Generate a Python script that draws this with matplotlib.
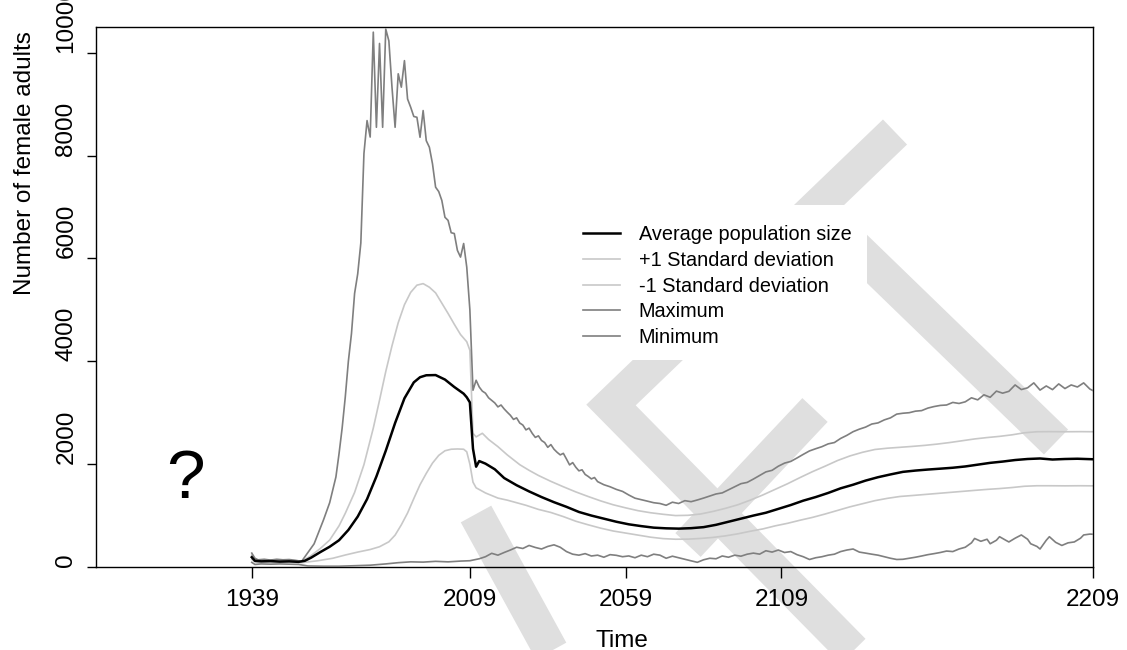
import matplotlib
matplotlib.use("Agg")
import matplotlib.pyplot as plt
from matplotlib.lines import Line2D
from matplotlib.patches import Rectangle

plt.rcParams["font.family"] = ["Liberation Sans", "DejaVu Sans"]

# ---- data (female adults per year) ----
avg_years = [1939, 1940, 1942, 1945, 1948, 1951, 1954, 1956, 1958, 1961, 1964, 1967,
             1970, 1973, 1976, 1979, 1982, 1985, 1988, 1991, 1993, 1995, 1998, 2001,
             2004, 2007, 2008, 2009, 2010, 2011, 2012, 2014, 2017, 2020, 2024, 2028,
             2032, 2036, 2040, 2044, 2048, 2052, 2056, 2060, 2064, 2068, 2072, 2076,
             2080, 2084, 2088, 2092, 2096, 2100, 2104, 2108, 2112, 2116, 2120, 2124,
             2128, 2132, 2136, 2140, 2144, 2148, 2152, 2156, 2160, 2164, 2168, 2172,
             2176, 2180, 2184, 2188, 2192, 2196, 2200, 2204, 2209]
avg_vals = [190, 120, 110, 115, 105, 110, 100, 120, 180, 290, 394, 520,
            720, 980, 1320, 1760, 2260, 2800, 3280, 3590, 3690, 3728, 3732, 3645,
            3500, 3370, 3300, 3200, 2300, 1950, 2060, 2010, 1900, 1730, 1590, 1470,
            1360, 1260, 1170, 1070, 1000, 940, 880, 830, 795, 765, 752, 746,
            755, 775, 820, 880, 940, 1000, 1055, 1130, 1205, 1290, 1360, 1440,
            1530, 1600, 1680, 1746, 1800, 1850, 1875, 1895, 1912, 1930, 1955, 1990,
            2025, 2050, 2080, 2100, 2110, 2090, 2100, 2105, 2095]

sd_up_years = [1939, 1940, 1943, 1947, 1951, 1955, 1958, 1961, 1964, 1967, 1969, 1972,
               1975, 1978, 1980, 1982, 1984, 1986, 1988, 1990, 1992, 1994, 1996, 1998,
               2000, 2002, 2004, 2006, 2008, 2009, 2010, 2011, 2013, 2015, 2018, 2021,
               2025, 2028, 2031, 2035, 2039, 2043, 2047, 2051, 2055, 2059, 2063, 2067,
               2071, 2075, 2079, 2083, 2087, 2091, 2095, 2099, 2103, 2107, 2111, 2115,
               2119, 2123, 2127, 2131, 2135, 2139, 2143, 2147, 2151, 2155, 2159, 2163,
               2167, 2171, 2175, 2179, 2183, 2187, 2191, 2195, 2200, 2205, 2209]
sd_up_vals = [230, 140, 125, 120, 115, 105, 220, 360, 524, 800, 1043, 1450,
              1990, 2700, 3243, 3800, 4300, 4750, 5100, 5340, 5480, 5510, 5440, 5330,
              5130, 4930, 4720, 4520, 4380, 4214, 2600, 2530, 2600, 2480, 2340, 2180,
              1990, 1880, 1780, 1665, 1560, 1460, 1370, 1285, 1210, 1150, 1095, 1055,
              1025, 1000, 1005, 1030, 1080, 1140, 1210, 1300, 1400, 1510, 1620, 1740,
              1855, 1960, 2070, 2160, 2230, 2285, 2310, 2327, 2345, 2365, 2390, 2420,
              2455, 2490, 2517, 2540, 2570, 2610, 2630, 2632, 2630, 2632, 2630]

sd_low_years = [1939, 1940, 1943, 1947, 1951, 1955, 1960, 1965, 1969, 1973, 1977, 1980,
                1983, 1985, 1987, 1989, 1991, 1993, 1995, 1997, 1999, 2001, 2003, 2005,
                2007, 2008, 2009, 2010, 2011, 2014, 2018, 2021, 2024, 2027, 2031, 2035,
                2039, 2043, 2047, 2051, 2055, 2059, 2063, 2067, 2071, 2075, 2079, 2083,
                2087, 2091, 2095, 2099, 2103, 2107, 2111, 2115, 2119, 2123, 2127, 2131,
                2135, 2139, 2143, 2147, 2151, 2155, 2159, 2163, 2167, 2171, 2175, 2179,
                2183, 2187, 2191, 2195, 2200, 2205, 2209]
sd_low_vals = [150, 100, 95, 90, 95, 85, 120, 170, 233, 290, 340, 394,
               490, 620, 820, 1050, 1330, 1600, 1820, 2020, 2170, 2260, 2290, 2295,
               2290, 2240, 2000, 1650, 1540, 1440, 1340, 1300, 1250, 1200, 1120, 1060,
               980, 890, 820, 755, 700, 660, 620, 580, 552, 540, 542, 555,
               575, 605, 645, 695, 740, 800, 850, 910, 965, 1030, 1100, 1170,
               1230, 1290, 1335, 1371, 1390, 1410, 1430, 1450, 1470, 1490, 1509, 1525,
               1545, 1570, 1580, 1580, 1578, 1580, 1578]

max_years = [1939, 1940, 1941, 1943, 1945, 1947, 1949, 1951, 1953, 1955, 1957, 1959,
             1961, 1962, 1964, 1965, 1966, 1967, 1968, 1969, 1970, 1971, 1972, 1973,
             1974, 1975, 1976, 1977, 1978, 1979, 1980, 1981, 1982, 1983, 1984, 1985,
             1986, 1987, 1988, 1989, 1990, 1991, 1992, 1993, 1994, 1995, 1996, 1997,
             1998, 1999, 2000, 2001, 2002, 2003, 2004, 2005, 2006, 2007, 2008, 2009,
             2010, 2011, 2012, 2013, 2014, 2015, 2016, 2017, 2018, 2019, 2020, 2021,
             2022, 2023, 2024, 2025, 2026, 2027, 2028, 2029, 2030, 2031, 2032, 2033,
             2034, 2035, 2036, 2037, 2038, 2039, 2040, 2041, 2042, 2043, 2044, 2045,
             2046, 2047, 2048, 2049, 2050, 2052, 2054, 2056, 2058, 2060, 2062, 2064,
             2066, 2068, 2070, 2072, 2074, 2076, 2078, 2080, 2082, 2084, 2086, 2088,
             2090, 2092, 2094, 2096, 2098, 2100, 2102, 2104, 2106, 2108, 2110, 2112,
             2114, 2116, 2118, 2120, 2122, 2124, 2126, 2128, 2130, 2132, 2134, 2136,
             2138, 2140, 2142, 2144, 2146, 2148, 2150, 2152, 2154, 2156, 2158, 2160,
             2162, 2164, 2166, 2168, 2170, 2172, 2174, 2176, 2178, 2180, 2182, 2184,
             2186, 2188, 2190, 2192, 2194, 2196, 2198, 2200, 2202, 2204, 2206, 2208,
             2209]
max_vals = [270, 170, 140, 150, 135, 150, 140, 145, 130, 110, 280, 450,
            760, 913, 1250, 1500, 1750, 2200, 2700, 3300, 4000, 4540, 5320, 5700,
            6300, 8040, 8680, 8360, 10400, 8550, 10180, 8550, 10460, 10230, 9330, 8550,
            9590, 9330, 9846, 9100, 8940, 8760, 8745, 8356, 8875, 8290, 8162, 7840,
            7385, 7300, 7127, 6800, 6740, 6500, 6484, 6156, 6026, 6290, 5830, 5000,
            3437, 3631, 3500, 3420, 3380, 3290, 3240, 3190, 3113, 3150, 3074, 3010,
            2950, 2870, 2900, 2800, 2760, 2666, 2700, 2600, 2520, 2550, 2460, 2420,
            2327, 2380, 2290, 2230, 2180, 2210, 2100, 1985, 2030, 1940, 1870, 1890,
            1800, 1760, 1713, 1740, 1660, 1600, 1560, 1509, 1470, 1400, 1338, 1310,
            1280, 1250, 1235, 1200, 1260, 1235, 1290, 1270, 1303, 1340, 1380, 1420,
            1441, 1500, 1560, 1620, 1645, 1710, 1780, 1849, 1880, 1960, 2020, 2053,
            2120, 2190, 2257, 2300, 2340, 2394, 2420, 2500, 2560, 2631, 2680, 2720,
            2780, 2802, 2860, 2900, 2973, 2990, 3000, 3030, 3041, 3090, 3120, 3142,
            3150, 3200, 3180, 3212, 3290, 3250, 3348, 3300, 3420, 3380, 3416, 3540,
            3450, 3484, 3580, 3440, 3520, 3449, 3560, 3470, 3540, 3500, 3580, 3460,
            3430]

min_years = [1939, 1940, 1942, 1945, 1948, 1951, 1954, 1957, 1962, 1967, 1972, 1977,
             1982, 1986, 1990, 1994, 1998, 2002, 2006, 2009, 2012, 2014, 2016, 2018,
             2020, 2022, 2024, 2026, 2028, 2030, 2032, 2034, 2036, 2038, 2040, 2042,
             2044, 2046, 2048, 2050, 2052, 2054, 2056, 2058, 2060, 2062, 2064, 2066,
             2068, 2070, 2072, 2074, 2076, 2078, 2080, 2082, 2084, 2086, 2088, 2090,
             2092, 2094, 2096, 2098, 2100, 2102, 2104, 2106, 2108, 2110, 2112, 2114,
             2116, 2118, 2120, 2122, 2124, 2126, 2128, 2130, 2132, 2134, 2136, 2138,
             2140, 2142, 2144, 2146, 2148, 2150, 2152, 2154, 2156, 2158, 2160, 2162,
             2164, 2166, 2168, 2170, 2171, 2173, 2175, 2176, 2178, 2179, 2181, 2182,
             2184, 2186, 2188, 2189, 2191, 2192, 2194, 2195, 2197, 2199, 2201, 2203,
             2205, 2206, 2208, 2209]
min_vals = [90, 50, 60, 55, 60, 55, 50, 20, 15, 15, 25, 35,
            60, 84, 100, 95, 110, 100, 115, 122, 160, 200, 266, 230,
            282, 330, 384, 360, 419, 380, 350, 400, 431, 384, 300, 249,
            230, 260, 214, 230, 190, 240, 227, 200, 215, 180, 230, 200,
            249, 230, 170, 210, 180, 150, 120, 91, 140, 170, 160, 214,
            190, 230, 210, 249, 270, 250, 316, 290, 330, 282, 300, 240,
            200, 146, 180, 200, 230, 249, 300, 330, 350, 290, 270, 249,
            230, 200, 170, 146, 150, 170, 190, 214, 240, 260, 282, 310,
            300, 350, 384, 470, 555, 500, 540, 452, 520, 589, 520, 487,
            560, 623, 540, 452, 400, 350, 520, 589, 480, 419, 470, 487,
            560, 623, 640, 637]

x_ticks = [1939, 2009, 2059, 2109, 2209]
y_ticks = [0, 2000, 4000, 6000, 8000, 10000]

# light watermark strokes behind the plot (figure pixels, y from top)
watermark = [
    [(895, 132), (611, 405), (862, 660)],
    [(835, 228), (1056, 442)],
    [(815, 410), (688, 545)],
    [(476, 514), (556, 660)],
]

W, H = 1127, 650
fig = plt.figure(figsize=(W / 100, H / 100), dpi=100)

for stroke in watermark:
    xs = [p[0] / W for p in stroke]
    ys = [1 - p[1] / H for p in stroke]
    fig.add_artist(Line2D(xs, ys, transform=fig.transFigure, color="#dfdfdf",
                          lw=25, solid_joinstyle="miter", solid_capstyle="butt",
                          zorder=-3))

# white patch behind the legend
fig.add_artist(Rectangle((576 / W, 1 - 360 / H), 291 / W, 155 / H,
                         transform=fig.transFigure, facecolor="white",
                         edgecolor="none", zorder=-2))

ax = fig.add_axes([96 / W, 83 / H, 997 / W, 540 / H])
ax.patch.set_alpha(0)

light = "#c8c8c8"
dark = "#7f7f7f"
ax.plot(sd_up_years, sd_up_vals, color=light, lw=1.2, label="+1 Standard deviation", zorder=2)
ax.plot(sd_low_years, sd_low_vals, color=light, lw=1.2, label="-1 Standard deviation", zorder=2)
ax.plot(max_years, max_vals, color=dark, lw=1.2, label="Maximum", zorder=3)
ax.plot(min_years, min_vals, color=dark, lw=1.2, label="Minimum", zorder=3)
ax.plot(avg_years, avg_vals, color="black", lw=1.8, label="Average population size", zorder=4)

ax.set_xlim(1889, 2209)
ax.set_ylim(0, 10500)
ax.set_xticks(x_ticks)
ax.set_yticks(y_ticks)
ax.tick_params(axis="x", length=8, width=1, pad=8, labelsize=17.5)
ax.tick_params(axis="y", length=6.5, width=1, pad=7, labelsize=17.5)
plt.setp(ax.get_yticklabels(), rotation=90, va="bottom")
for sp in ax.spines.values():
    sp.set_linewidth(1.0)

ax.text(1917.7, 1340, "?", fontsize=50, ha="center", va="baseline")

handles, labels = ax.get_legend_handles_labels()
order = [4, 0, 1, 2, 3]
ax.legend([handles[i] for i in order], [labels[i] for i in order],
          loc="upper left", bbox_to_anchor=(583 / W, 1 - 225 / H),
          bbox_transform=fig.transFigure, frameon=False, fontsize=14.3,
          borderpad=0, borderaxespad=0, handlelength=1.85, handletextpad=0.95,
          labelspacing=0.34)

fig.text(622 / W, 1 - 647 / H, "Time", ha="center", va="baseline", fontsize=17.5)
fig.text(25 / W, 1 - 163.5 / H, "Number of female adults", ha="center", va="center",
         rotation=90, fontsize=17.5)

fig.savefig("out.png", dpi=100)
